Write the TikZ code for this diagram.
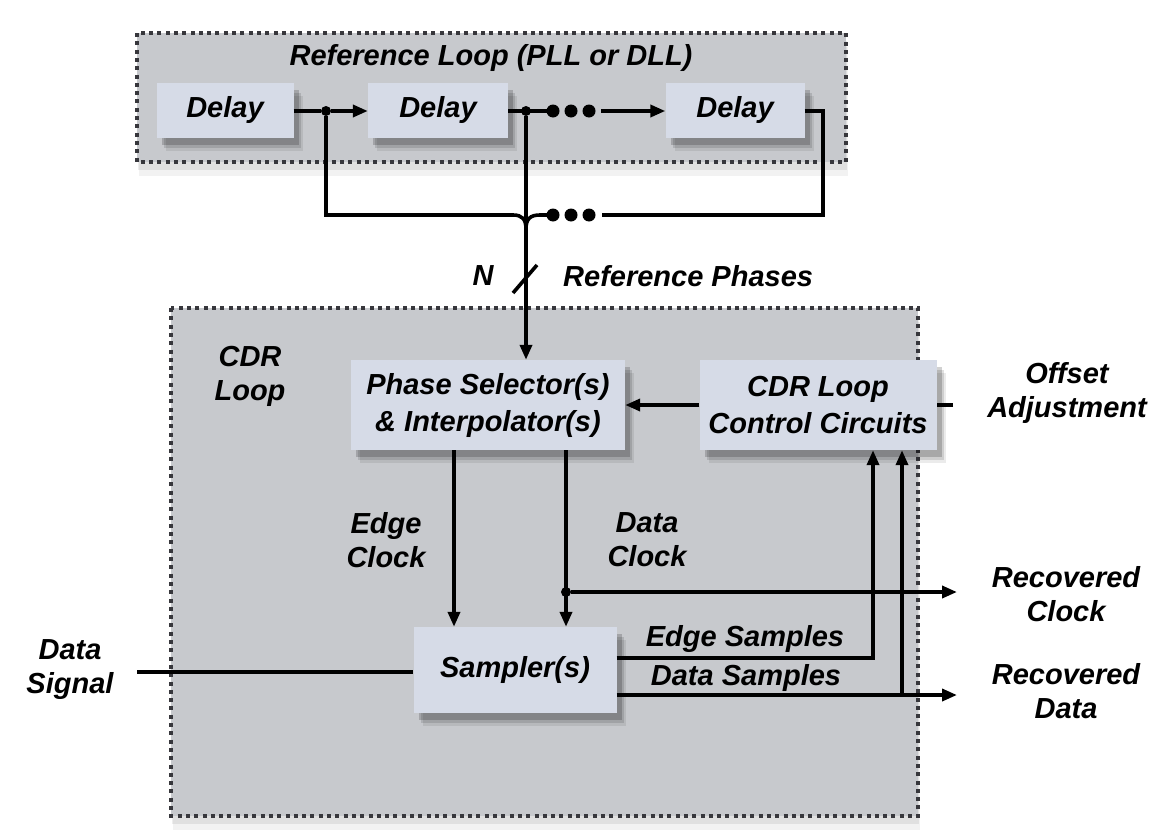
\documentclass[tikz,border=0pt]{standalone}
\usepackage{fontspec}
\setmainfont{Liberation Sans}
\usetikzlibrary{arrows.meta,shadows}
\definecolor{loopfill}{RGB}{199,201,205}
\definecolor{boxfill}{RGB}{214,219,231}
\definecolor{dotc}{RGB}{55,55,60}
\begin{document}
\begin{tikzpicture}[x=1pt,y=-1pt,
  lbl/.style={font=\fontsize{29}{34}\selectfont\bfseries\itshape, align=center, inner sep=0pt},
  blk/.style={draw=none, fill=boxfill, font=\fontsize{29}{37}\selectfont\bfseries\itshape, align=center, inner sep=0pt,
     drop shadow={shadow xshift=9pt, shadow yshift=-13pt, fill=black, opacity=0.08},
     drop shadow={shadow xshift=7pt, shadow yshift=-10pt, fill=black, opacity=0.12},
     drop shadow={shadow xshift=5pt, shadow yshift=-7pt, fill=black, opacity=0.18}},
  loopbox/.style={fill=loopfill, draw=dotc, line width=4.5pt, dash pattern=on 4pt off 4.3pt,
     drop shadow={shadow xshift=2pt, shadow yshift=-14pt, fill=black, opacity=0.05},
     drop shadow={shadow xshift=1pt, shadow yshift=-8pt, fill=black, opacity=0.07}},
  wire/.style={line width=3.6pt, black},
  arr/.style={wire, -{Triangle[length=15pt,width=12pt]}},
  jdot/.style={circle, fill=black, inner sep=0pt, minimum size=10pt},
  bdot/.style={circle, fill=black, inner sep=0pt, minimum size=13pt}
]
\useasboundingbox (0,0) rectangle (1157,838);
\fill[white] (0,0) rectangle (1157,838);

% containers
\draw[loopbox] (137,33) rectangle (846,162);
\draw[loopbox] (171,308) rectangle (918,816);

% blocks
\node[blk, minimum width=137pt, minimum height=55pt] (d1) at (225,110) {Delay};
\node[blk, minimum width=140pt, minimum height=55pt] (d2) at (438,110) {Delay};
\node[blk, minimum width=139pt, minimum height=55pt] (d3) at (735,110) {Delay};
\node[blk, minimum width=274pt, minimum height=90pt] (phase) at (488,405) {Phase Selector(s)\\\& Interpolator(s)};
\node[blk, minimum width=237pt, minimum height=90pt] (ctrl) at (818,405) {CDR Loop\\Control Circuits};
\node[blk, minimum width=203pt, minimum height=86pt] (samp) at (515,670) {Sampler(s)};

% junctions and helper coordinates
\node[jdot] (j1) at (326,111) {};
\node[jdot] (j2) at (526,111) {};
\node[bdot] (t1) at (553,111) {};
\node[bdot] (t2) at (571,111) {};
\node[bdot] (t3) at (589,111) {};
\node[bdot] (b1) at (553,215) {};
\node[bdot] (b2) at (571,215) {};
\node[bdot] (b3) at (589,215) {};
\coordinate (tg) at (601,111);
\coordinate (bg) at (602,215);
\coordinate (c1) at (326,215);
\coordinate (c3) at (823,215);
\coordinate (merge) at (526,229);
\coordinate (s1) at (513,293);
\coordinate (s2) at (537,265);
\coordinate (xe) at (454,0);
\coordinate (xd) at (566,0);
\coordinate (xs) at (873,0);
\coordinate (xt) at (902,0);
\coordinate (ys) at (0,658);
\coordinate (yd) at (0,695);
\node[jdot] (j3) at (566,592) {};
\coordinate (rc) at (957,592);
\coordinate (rd) at (957,695);
\coordinate (off) at (953,405);
\coordinate (ds) at (137,672);

% reference loop wiring
\draw[wire] (d1.east |- j1) -- (j1);
\draw[arr] (j1) -- (d2.west |- j1);
\draw[wire] (d2.east |- j2) -- (547,111);
\draw[arr] (tg) -- (d3.west |- tg);
\draw[wire] (j1) -- (c1) -- (513,215) .. controls (522,215) and (526,219) .. (merge);
\draw[wire] (d3.east |- tg) -- (tg -| c3) -- (c3) -- (bg);
\draw[wire] (547,215) -- (540,215) .. controls (530,215) and (526,219) .. (merge);
\draw[arr] (j2) -- (j2 |- phase.north);
\draw[wire] (s1) -- (s2);

% CDR loop wiring
\draw[arr] (ctrl.west) -- (phase.east);
\draw[wire] (off) -- (ctrl.east);
\draw[arr] (phase.south -| xe) -- (samp.north -| xe);
\draw[arr] (phase.south -| xd) -- (samp.north -| xd);
\draw[arr] (j3) -- (rc);
\draw[arr] (samp.east |- ys) -- (ys -| xs) -- (ctrl.south -| xs);
\draw[arr] (samp.east |- yd) -- (rd);
\draw[arr] (yd -| xt) -- (ctrl.south -| xt);
\draw[wire] (ds) -- (samp.west |- ds);

% labels
\node[lbl] (tref) at (491,58) {Reference Loop (PLL or DLL)};
\node[lbl] (tn) at (483,276) {N};
\node[lbl, anchor=west] (tphases) at (563,276) {Reference Phases};
\node[lbl] (tcdr) at (250,376) {CDR\\Loop};
\node[lbl] (tec) at (386,540) {Edge\\Clock};
\node[lbl] (tdc) at (647,540) {Data\\Clock};
\node[lbl] (toff) at (1067,393) {Offset\\Adjustment};
\node[lbl] (trc) at (1066,594) {Recovered\\Clock};
\node[lbl] (trd) at (1066,691) {Recovered\\Data};
\node[lbl] (tes) at (745,639) {Edge Samples};
\node[lbl] (tds) at (746,678) {Data Samples};
\node[lbl] (tsig) at (70,670) {Data\\Signal};
\end{tikzpicture}
\end{document}
